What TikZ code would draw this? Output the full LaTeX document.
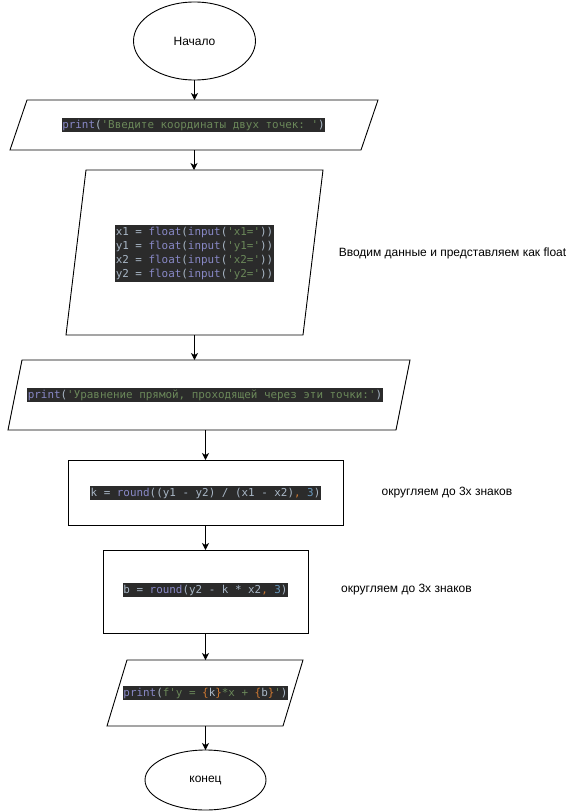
\documentclass[tikz,border=0pt]{standalone}
\usepackage{fontspec}
\setmainfont{Liberation Sans}
\setmonofont{DejaVu Sans Mono}
\usetikzlibrary{shapes.geometric,arrows.meta}
\definecolor{codebg}{HTML}{2B2B2B}
\definecolor{cbuilt}{HTML}{8888C6}
\definecolor{cstring}{HTML}{6A8759}
\definecolor{cdefault}{HTML}{A9B7C6}
\definecolor{corange}{HTML}{CC7832}
\definecolor{cnumber}{HTML}{6897BB}
\newcommand{\cbi}[1]{\textcolor{cbuilt}{#1}}
\newcommand{\cstr}[1]{\textcolor{cstring}{#1}}
\newcommand{\cdf}[1]{\textcolor{cdefault}{#1}}
\newcommand{\corg}[1]{\textcolor{corange}{#1}}
\newcommand{\cnum}[1]{\textcolor{cnumber}{#1}}
\newcommand{\drawpara}[2]{\draw[shapeline] ([xshift=#2]#1.north west) -- (#1.north east) -- ([xshift=-#2]#1.south east) -- (#1.south west) -- cycle;}
\tikzset{
  shapeline/.style={draw=black, line width=0.9pt},
  frame/.style={inner sep=0pt, outer sep=0pt},
  term/.style={ellipse, shapeline, frame, font=\fontsize{12}{14}\selectfont},
  procbox/.style={rectangle, shapeline, frame},
  codebox/.style={fill=codebg, inner xsep=0.5pt, inner ysep=1.8pt, outer sep=0pt, align=left,
    font=\ttfamily\fontsize{10.9}{14}\selectfont},
  note/.style={inner sep=0pt, font=\fontsize{12}{14}\selectfont},
  arr/.style={draw=black, line width=0.9pt, -{Stealth[length=7pt,width=7pt,inset=2pt]}}
}
\begin{document}
\begin{tikzpicture}[x=1pt,y=-1pt]
\useasboundingbox (0,0) rectangle (571,811);
% start
\node[term, minimum width=122pt, minimum height=78pt] (start) at (194.5,41) {Начало};
% para 1
\node[frame, minimum width=368pt, minimum height=50pt] (p1) at (194,125) {};
\drawpara{p1}{17}
\node[codebox] (c1) at (193.5,125) {\cbi{print}\cdf{(}\cstr{'Введите координаты двух точек: '}\cdf{)}};
% para 2
\node[frame, minimum width=257pt, minimum height=165pt] (p2) at (194.5,252.5) {};
\drawpara{p2}{20}
\node[codebox] (c2) at (194.5,253.5) {%
\cdf{x1 = }\cbi{float}\cdf{(}\cbi{input}\cdf{(}\cstr{'x1='}\cdf{))}\\
\cdf{y1 = }\cbi{float}\cdf{(}\cbi{input}\cdf{(}\cstr{'y1='}\cdf{))}\\
\cdf{x2 = }\cbi{float}\cdf{(}\cbi{input}\cdf{(}\cstr{'x2='}\cdf{))}\\
\cdf{y2 = }\cbi{float}\cdf{(}\cbi{input}\cdf{(}\cstr{'y2='}\cdf{))}};
\node[note] (n1) at (452.5,253) {Вводим данные и представляем как float};
% para 3
\node[frame, minimum width=402pt, minimum height=70pt] (p3) at (209,395) {};
\drawpara{p3}{14}
\node[codebox] (c3) at (205,395) {\cbi{print}\cdf{(}\cstr{'Уравнение прямой, проходящей через эти точки:'}\cdf{)}};
% rect 1
\node[procbox, minimum width=275pt, minimum height=65pt] (r1) at (205.5,492.5) {};
\node[codebox] (c4) at (205.5,493) {\cdf{k = }\cbi{round}\cdf{((y1 - y2) / (x1 - x2)}\corg{,} \cnum{3}\cdf{)}};
\node[note] (n2) at (447,493) {округляем до 3х знаков};
% rect 2
\node[procbox, minimum width=205pt, minimum height=83pt] (r2) at (205.5,591.5) {};
\node[codebox] (c5) at (205.5,590) {\cdf{b = }\cbi{round}\cdf{(y2 - k * x2}\corg{,} \cnum{3}\cdf{)}};
\node[note] (n3) at (406.5,590) {округляем до 3х знаков};
% para 4
\node[frame, minimum width=196pt, minimum height=66pt] (p4) at (205,693) {};
\drawpara{p4}{20}
\node[codebox] (c6) at (205.5,693) {\cbi{print}\cdf{(}\cstr{f'y = }\corg{\{}\cdf{k}\corg{\}}\cstr{*x + }\corg{\{}\cdf{b}\corg{\}}\cstr{'}\cdf{)}};
% end
\node[term, minimum width=121pt, minimum height=60pt] (end) at (205.5,780) {конец};
% connectors
\draw[arr] (start.south) -- (start.south |- p1.north);
\draw[arr] (p1.south) -- (p1.south |- p2.north);
\draw[arr] (p2.south) -- (p2.south |- p3.north);
\draw[arr] (p3.south -| r1.north) -- (r1.north);
\draw[arr] (r1.south) -- (r2.north);
\draw[arr] (r2.south) -- (r2.south |- p4.north);
\draw[arr] (p4.south -| end.north) -- (end.north);
\end{tikzpicture}
\end{document}
